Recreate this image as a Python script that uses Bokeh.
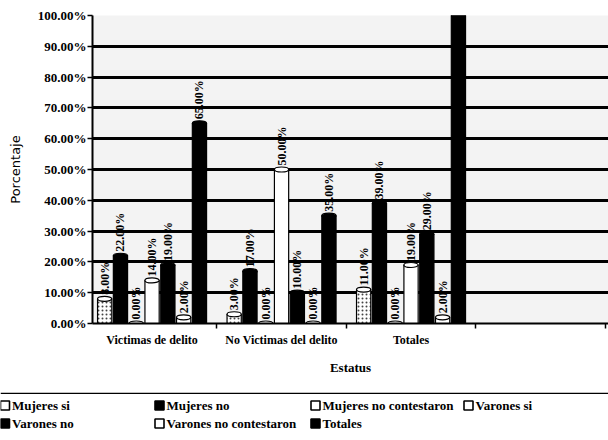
import numpy as np
from bokeh.plotting import figure
from bokeh.models import Range1d, FixedTicker, PrintfTickFormatter, Span
from bokeh.layouts import column
from bokeh.embed import file_html
from bokeh.resources import INLINE
from bokeh.core.properties import value

# ---------------- data ----------------
categories = ["Victimas de delito", "No Victimas del delito", "Totales"]
series = ["Mujeres si", "Mujeres no", "Mujeres no contestaron", "Varones si",
          "Varones no", "Varones no contestaron", "Totales"]
victimas = [8, 22, 0, 14, 19, 2, 65]
no_victimas = [3, 17, 0, 50, 10, 0, 35]
totales = [11, 39, 0, 19, 29, 2, 100]
y_ticks = [0, 10, 20, 30, 40, 50, 60, 70, 80, 90, 100]

# ---------------- style ----------------
FONT = "Liberation Serif"
fills = ["white", "black", "white", "white", "black", "white", "black"]
hatches = [".", None, None, None, None, None, None]
slot = 0.122
bar_w = 0.11
Y_MAX = 100

p = figure(width=608, height=392, output_backend="svg", toolbar_location=None,
           x_range=Range1d(-0.46, 3.525), y_range=Range1d(0, Y_MAX))
p.min_border_left = 92
p.min_border_top = 15
p.min_border_right = 0
p.min_border_bottom = 69
p.frame_align = False
p.background_fill_color = "#f3f3f3"
p.border_fill_color = "white"
p.outline_line_color = None

cat_x = np.arange(len(categories))
for i, name in enumerate(series):
    vals = np.array([victimas[i], no_victimas[i], totales[i]], dtype=float)
    xs = cat_x + (i - 3) * slot
    kw = {}
    if hatches[i]:
        kw = dict(hatch_pattern=hatches[i], hatch_color="#444444", hatch_scale=4)
    p.vbar(x=xs, top=vals, width=bar_w, fill_color=fills[i], line_color="black",
           line_width=1.2, **kw)
    p.ellipse(x=xs, y=vals, width=bar_w, height=5, height_units="screen",
              fill_color=fills[i], line_color="black", line_width=1.2)
    keep = vals < Y_MAX
    p.text(x=xs[keep], y=vals[keep], text=[f"{v:.2f}%" for v in vals[keep]],
           angle=np.pi / 2, text_align="left", text_baseline="middle", y_offset=-4,
           text_font=value(FONT), text_font_style="bold", text_font_size="12px",
           text_color="black")

# grid
p.xgrid.visible = False
p.ygrid.ticker = FixedTicker(ticks=y_ticks[1:-1])
p.ygrid.grid_line_color = "black"
p.ygrid.grid_line_width = 3

# y axis
p.yaxis.ticker = FixedTicker(ticks=y_ticks)
p.yaxis.formatter = PrintfTickFormatter(format="%.2f%%")
p.yaxis.axis_line_width = 2
p.yaxis.major_tick_out = 5
p.yaxis.major_tick_in = 0
p.yaxis.major_tick_line_width = 1.5
p.yaxis.minor_tick_line_color = None
p.yaxis.major_label_standoff = 1
p.yaxis.major_label_text_font = FONT
p.yaxis.major_label_text_font_style = "bold"
p.yaxis.major_label_text_font_size = "13px"
p.yaxis.major_label_text_color = "black"
p.yaxis.axis_label = "Porcentaje"
p.yaxis.axis_label_text_font = "DejaVu Sans"
p.yaxis.axis_label_text_font_style = "normal"
p.yaxis.axis_label_text_font_size = "13px"
p.yaxis.axis_label_standoff = 12
p.yaxis.axis_label_text_color = "black"

# x axis
p.xaxis.ticker = FixedTicker(ticks=list(cat_x), minor_ticks=[0.5, 1.5, 2.5, 3.5])
p.xaxis.major_label_overrides = {int(k): c for k, c in zip(cat_x, categories)}
p.xaxis.major_tick_line_color = None
p.xaxis.minor_tick_out = 5
p.xaxis.minor_tick_in = 0
p.xaxis.minor_tick_line_width = 1.5
p.xaxis.axis_line_width = 2
p.xaxis.major_label_standoff = 3
p.xaxis.major_label_text_font = FONT
p.xaxis.major_label_text_font_style = "bold"
p.xaxis.major_label_text_font_size = "12px"
p.xaxis.major_label_text_color = "black"
p.xaxis.axis_label = "Estatus"
p.xaxis.axis_label_text_font = FONT
p.xaxis.axis_label_text_font_style = "bold"
p.xaxis.axis_label_text_font_size = "13px"
p.xaxis.axis_label_standoff = 10
p.xaxis.axis_label_text_color = "black"

# ---------------- legend ----------------
leg = figure(width=608, height=48, output_backend="svg", toolbar_location=None,
             x_range=Range1d(0, 608), y_range=Range1d(48, 0))
leg.min_border = 0
leg.min_border_left = 0
leg.min_border_right = 0
leg.min_border_top = 0
leg.min_border_bottom = 0
leg.frame_align = False
leg.axis.visible = False
leg.grid.visible = False
leg.outline_line_color = None
leg.background_fill_color = "white"
leg.add_layout(Span(location=0.8, dimension="width", line_color="black", line_width=1.6))

col_x = [4.5, 159, 315, 468]
row_y = [13, 31]
for i, name in enumerate(series):
    r, c = divmod(i, 4)
    leg.scatter([col_x[c]], [row_y[r]], marker="square", size=9,
                fill_color=fills[i], line_color="black", line_width=1.6)
    leg.text([col_x[c] + 7], [row_y[r]], text=[name], text_align="left",
             text_baseline="middle", text_font=value(FONT), text_font_style="bold",
             text_font_size="13px", text_color="black")

open("out.html", "w").write(file_html(column(p, leg), INLINE))
